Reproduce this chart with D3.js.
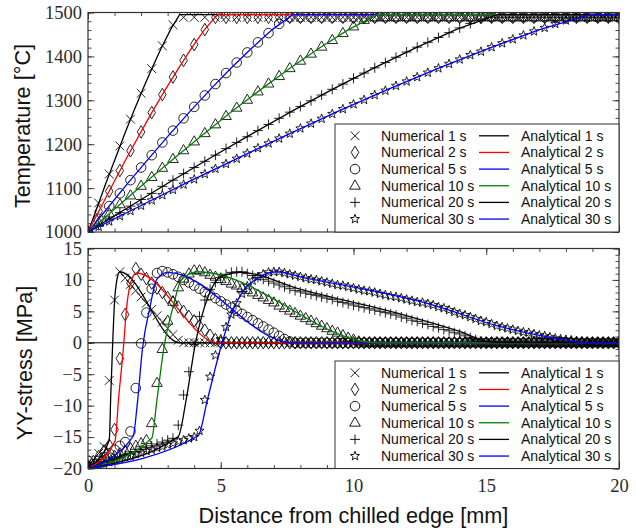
<!DOCTYPE html>
<html>
<head>
<meta charset="utf-8">
<script src="https://cdn.jsdelivr.net/npm/d3@7.9.0/dist/d3.min.js"></script>
<style>
  body { margin: 0; background: #fff; }
  svg { display: block; }
</style>
</head>
<body>
<svg id="chart" width="636" height="531"></svg>
<script>
// ---------- data ----------
const seriesLabels = ['1 s', '2 s', '5 s', '10 s', '20 s', '30 s'];
const lineColors = ['#000000', '#ff0000', '#0000ff', '#008000', '#000000', '#0000ff'];
const markerShapes = ['cross', 'diamond', 'circle', 'triangle', 'plus', 'star'];
const xTicks = [0, 5, 10, 15, 20];
const tempTicks = [1000, 1100, 1200, 1300, 1400, 1500];
const stressTicks = [-20, -15, -10, -5, 0, 5, 10, 15];

// temperature nodes of the numerical model [mm]
const tempNodeX = [0,0.4,0.8,1.2,1.6,2,2.4,2.8,3.2,3.6,4,4.4,4.8,5.2,5.6,6,6.4,6.8,7.2,7.6,
  8,8.4,8.8,9.2,9.6,10,10.4,10.8,11.2,11.6,12,12.4,12.8,13.2,13.6,14,14.4,14.8,15.2,15.6,
  16,16.4,16.8,17.2,17.6,18,18.4,18.8,19.2,19.6,20];

const tempNum1s = [1000,1066,1132,1196,1257,1316,1372,1424,1472,1489,
  1489,1489,1489,1489,1489,1489,1489,1489,1489,1489,
  1489,1489,1489,1489,1489,1489,1489,1489,1489,1489,
  1489,1489,1489,1489,1489,1489,1489,1489,1489,1489,
  1489,1489,1489,1489,1489,1489,1489,1489,1489,1489,1489];
const tempNum2s = [1000,1047,1093,1140,1185,1228,1272,1313,1353,1391,
  1427,1461,1489,1489,1489,1489,1489,1489,1489,1489,
  1489,1489,1489,1489,1489,1489,1489,1489,1489,1489,
  1489,1489,1489,1489,1489,1489,1489,1489,1489,1489,
  1489,1489,1489,1489,1489,1489,1489,1489,1489,1489,1489];
const tempNum5s = [1000,1030,1059,1088,1118,1147,1175,1204,1231,1259,
  1285,1311,1337,1362,1386,1409,1432,1453,1474,1489,
  1489,1489,1489,1489,1489,1489,1489,1489,1489,1489,
  1489,1489,1489,1489,1489,1489,1489,1489,1489,1489,
  1489,1489,1489,1489,1489,1489,1489,1489,1489,1489,1489];
const tempNum10s = [1000,1021,1042,1063,1083,1105,1125,1146,1166,1186,
  1206,1225,1245,1264,1283,1301,1320,1338,1355,1373,
  1390,1406,1422,1437,1453,1468,1483,1489,1489,1489,
  1489,1489,1489,1489,1489,1489,1489,1489,1489,1489,
  1489,1489,1489,1489,1489,1489,1489,1489,1489,1489,1489];
const tempNum20s = [1000,1015,1030,1044,1059,1074,1088,1104,1118,1133,
  1147,1161,1175,1190,1204,1217,1231,1245,1259,1273,
  1286,1299,1312,1325,1337,1350,1362,1374,1386,1398,
  1410,1421,1432,1443,1454,1465,1475,1485,1489,1489,
  1489,1489,1489,1489,1489,1489,1489,1489,1489,1489,1489];
const tempNum30s = [1000,1012,1024,1036,1048,1060,1072,1084,1096,1108,
  1120,1132,1144,1155,1167,1179,1191,1202,1213,1224,
  1236,1247,1258,1269,1280,1291,1301,1312,1322,1333,
  1343,1353,1363,1373,1383,1393,1403,1411,1421,1430,
  1439,1448,1457,1465,1474,1482,1489,1489,1489,1489,1489];

// analytical temperature curves: x [mm], T [°C]
const tempAnaX1s  = [0,0.35,0.69,1.04,1.38,1.73,2.07,2.42,2.76,3.11,3.45,20];
const tempAnaX2s  = [0,0.49,0.98,1.46,1.95,2.44,2.93,3.42,3.9,4.39,4.88,20];
const tempAnaX5s  = [0,0.77,1.54,2.31,3.08,3.86,4.63,5.4,6.17,6.94,7.71,20];
const tempAnaX10s = [0,1.09,2.18,3.27,4.36,5.45,6.54,7.63,8.72,9.81,10.9,20];
const tempAnaX20s = [0,1.54,3.08,4.62,6.16,7.7,9.24,10.78,12.32,13.86,15.4,20];
const tempAnaX30s = [0,1.89,3.78,5.67,7.56,9.45,11.34,13.23,15.12,17.01,18.9,20];
const tempAnaT1s  = [1000,1057,1114,1169,1223,1276,1326,1374,1419,1461,1495,1495];
const tempAnaT2s  = [1000,1057,1114,1169,1223,1276,1326,1374,1419,1461,1495,1495];
const tempAnaT5s  = [1000,1057,1114,1169,1223,1276,1326,1374,1419,1461,1495,1495];
const tempAnaT10s = [1000,1057,1114,1169,1223,1276,1326,1374,1419,1461,1495,1495];
const tempAnaT20s = [1000,1057,1114,1169,1223,1276,1326,1374,1419,1461,1495,1495];
const tempAnaT30s = [1000,1057,1114,1169,1223,1276,1326,1374,1419,1461,1495,1495];

// stress points of the numerical model [mm]
const stressNodeX = [0,0.2,0.4,0.6,0.8,1,1.2,1.4,1.6,1.8,
  2,2.2,2.4,2.6,2.8,3,3.2,3.4,3.6,3.8,
  4,4.2,4.4,4.6,4.8,5,5.2,5.4,5.6,5.8,
  6,6.2,6.4,6.6,6.8,7,7.2,7.4,7.6,7.8,
  8,8.2,8.4,8.6,8.8,9,9.2,9.4,9.6,9.8,
  10,10.2,10.4,10.6,10.8,11,11.2,11.4,11.6,11.8,
  12,12.2,12.4,12.6,12.8,13,13.2,13.4,13.6,13.8,
  14,14.2,14.4,14.6,14.8,15,15.2,15.4,15.6,15.8,
  16,16.2,16.4,16.6,16.8,17,17.2,17.4,17.6,17.8,
  18,18.2,18.4,18.6,18.8,19,19.2,19.4,19.6,19.8,20];

const stressNum1s = [-19.6,-18.6,-17.6,-16.5,-6.0,6.8,11.3,10.3,9.3,8.3,
  7.3,6.3,5.3,4.3,3.3,2.3,1.3,0.4,0,0,
  0,0,0,0,0,0,0,0,0,0, 0,0,0,0,0,0,0,0,0,0,
  0,0,0,0,0,0,0,0,0,0, 0,0,0,0,0,0,0,0,0,0,
  0,0,0,0,0,0,0,0,0,0, 0,0,0,0,0,0,0,0,0,0,
  0,0,0,0,0,0,0,0,0,0, 0,0,0,0,0,0,0,0,0,0, 0];
const stressNum2s = [-19.6,-18.9,-18.1,-17.2,-16.3,-13.8,-2.5,4.5,9.5,11.8,
  10.9,10.2,9.5,8.7,8.0,7.2,6.5,5.7,5.0,4.2,
  3.5,2.7,2.0,1.2,0.5,0,0,0,0,0,
  0,0,0,0,0,0,0,0,0,0, 0,0,0,0,0,0,0,0,0,0,
  0,0,0,0,0,0,0,0,0,0, 0,0,0,0,0,0,0,0,0,0,
  0,0,0,0,0,0,0,0,0,0, 0,0,0,0,0,0,0,0,0,0,
  0,0,0,0,0,0,0,0,0,0, 0];
const stressNum5s = [-19.6,-19.3,-18.8,-18.2,-17.6,-17.0,-16.4,-15.8,-14.1,-7.2,
  -0.1,4.8,8.6,11.1,11.4,11.2,10.9,10.5,10.0,9.6,
  9.1,8.6,8.1,7.6,7.1,6.6,6.1,5.6,5.1,4.6,
  4.1,3.6,3.1,2.6,2.1,1.6,1.1,0.6,0.2,0,
  0,0,0,0,0,0,0,0,0,0, 0,0,0,0,0,0,0,0,0,0,
  0,0,0,0,0,0,0,0,0,0, 0,0,0,0,0,0,0,0,0,0,
  0,0,0,0,0,0,0,0,0,0, 0,0,0,0,0,0,0,0,0,0, 0];
const stressNum10s = [-19.6,-19.5,-19.2,-18.8,-18.4,-18.0,-17.6,-17.2,-16.8,-16.4,
  -16.0,-15.5,-12.8,-6.4,-1.0,3.5,6.5,8.8,10.2,11.0,
  11.5,11.5,11.2,10.8,10.5,10.1,9.8,9.4,9.1,8.7,
  8.4,8.0,7.6,7.2,6.8,6.4,5.9,5.5,5.1,4.7,
  4.3,3.9,3.5,3.1,2.7,2.3,1.9,1.6,1.2,0.8,
  0.5,0.2,0,0,0,0,0,0,0,0,
  0,0,0,0,0,0,0,0,0,0, 0,0,0,0,0,0,0,0,0,0,
  0,0,0,0,0,0,0,0,0,0, 0,0,0,0,0,0,0,0,0,0, 0];
const stressNum20s = [-19.6,-19.6,-19.4,-19.1,-18.8,-18.5,-18.2,-17.9,-17.6,-17.3,
  -17.0,-16.7,-16.4,-16.1,-15.8,-15.5,-15.2,-13.1,-8.3,-4.6,
  -0.3,4.2,6.8,8.5,9.6,10.4,10.9,11.2,11.3,11.3,
  11.0,10.7,10.4,10.1,9.8,9.5,9.2,8.9,8.6,8.3,
  8.1,7.9,7.7,7.5,7.3,7.1,6.9,6.6,6.4,6.2,
  6.0,5.8,5.6,5.4,5.2,5.0,4.8,4.6,4.4,4.1,
  3.9,3.6,3.4,3.1,2.9,2.6,2.4,2.1,1.9,1.6,
  1.4,1.1,0.8,0.5,0.2,0,0,0,0,0,
  0,0,0,0,0,0,0,0,0,0, 0,0,0,0,0,0,0,0,0,0, 0];
const stressNum30s = [-19.6,-19.7,-19.5,-19.2,-19.0,-18.7,-18.5,-18.2,-18.0,-17.7,
  -17.5,-17.2,-17.0,-16.7,-16.5,-16.2,-16.0,-15.7,-15.5,-15.2,
  -15.0,-14.0,-9.1,-5.4,-2.0,0.6,2.5,4.5,6.3,7.8,
  9.0,9.9,10.5,10.9,11.2,11.3,11.3,11.1,10.9,10.7,
  10.5,10.3,10.1,10.0,9.8,9.6,9.4,9.2,9.1,8.9,
  8.7,8.5,8.3,8.2,8.0,7.8,7.6,7.4,7.3,7.1,
  6.9,6.7,6.5,6.4,6.2,6.0,5.7,5.5,5.2,4.9,
  4.6,4.4,4.1,3.8,3.5,3.3,3.0,2.7,2.5,2.3,
  2.1,1.9,1.7,1.6,1.4,1.2,1.1,0.9,0.7,0.6,
  0.5,0.4,0.3,0.2,0.1,0,0,0,0,0, 0];

// analytical stress curves: x [mm], stress [MPa]
const stressAnaX1s  = [0,0.8,0.86,0.93,1.0,1.08,1.2,3.45,20];
const stressAnaY1s  = [-20,-15.5,-8,0,6.5,9.8,11.3,0,0];
const stressAnaX2s  = [0,1.02,1.15,1.33,1.46,1.65,1.83,4.9,20];
const stressAnaY2s  = [-20,-15.6,-9,-1,5.8,10.1,11.1,0,0];
const stressAnaX5s  = [0,1.7,1.85,2.05,2.34,2.59,3.0,7.7,20];
const stressAnaY5s  = [-20,-14.9,-10,-1,5.8,10.1,11.2,0,0];
const stressAnaX10s = [0,2.4,2.6,2.85,3.21,3.53,4.15,10.9,20];
const stressAnaY10s = [-20,-15.2,-9,-1,5.8,10.1,11.3,0,0];
const stressAnaX20s = [0,3.4,3.7,4.05,4.53,5.03,5.75,8,11.75,14,15.2,20];
const stressAnaY20s = [-20,-14.9,-9,0,7.4,10.6,11.2,8.5,4.6,1.8,0.1,0];
const stressAnaX30s = [0,4.15,4.5,5.05,5.41,5.79,6.4,7.1,8,13,15.5,17.5,18.9,20];
const stressAnaY30s = [-20,-14.8,-9,0,4.7,7.9,10.3,11.3,10.5,6.0,2.6,0.8,0,0];

// ---------- layout ----------
const svg = d3.select('#chart');
const plotLeft = 88, plotRight = 619;
const x = d3.scaleLinear().domain([0, 20]).range([plotLeft, plotRight]);
const serifFont = '"Liberation Serif", "DejaVu Serif", serif';
const sansFont = '"Liberation Sans", Arial, sans-serif';

const tempNum = [tempNum1s, tempNum2s, tempNum5s, tempNum10s, tempNum20s, tempNum30s];
const tempAna = [[tempAnaX1s, tempAnaT1s], [tempAnaX2s, tempAnaT2s], [tempAnaX5s, tempAnaT5s],
  [tempAnaX10s, tempAnaT10s], [tempAnaX20s, tempAnaT20s], [tempAnaX30s, tempAnaT30s]];
const stressNum = [stressNum1s, stressNum2s, stressNum5s, stressNum10s, stressNum20s, stressNum30s];
const stressAna = [[stressAnaX1s, stressAnaY1s], [stressAnaX2s, stressAnaY2s], [stressAnaX5s, stressAnaY5s],
  [stressAnaX10s, stressAnaY10s], [stressAnaX20s, stressAnaY20s], [stressAnaX30s, stressAnaY30s]];

function markerPath(shape) {
  switch (shape) {
    case 'cross': return 'M-4.4,-4.4L4.4,4.4M-4.4,4.4L4.4,-4.4';
    case 'plus': return 'M-5,0H5M0,-5V5';
    case 'diamond': return 'M0,-6.3L3.8,0L0,6.3L-3.8,0Z';
    case 'circle': return 'M4.8,0A4.8,4.8 0 1,1 -4.8,0A4.8,4.8 0 1,1 4.8,0Z';
    case 'triangle': return 'M0,-5.8L5.3,3.4L-5.3,3.4Z';
    case 'star': {
      let p = '';
      for (let k = 0; k < 10; k++) {
        const r = k % 2 ? 2.0 : 4.8;
        const a = -Math.PI / 2 + k * Math.PI / 5;
        p += (k ? 'L' : 'M') + (r * Math.cos(a)).toFixed(2) + ',' + (r * Math.sin(a)).toFixed(2);
      }
      return p + 'Z';
    }
  }
}

const panels = [
  {
    id: 'temp', top: 12.5, bottom: 232,
    domain: [1000, 1500], majorY: tempTicks, minorY: d3.range(1000, 1501, 20),
    nodeX: tempNodeX, num: tempNum, ana: tempAna, curve: d3.curveLinear,
    title: 'Temperature [°C]', titleX: 29.5, titleY: 126,
    xLabels: false, legendTop: 124, zeroLine: false
  },
  {
    id: 'stress', top: 248.5, bottom: 468.5,
    domain: [-20, 15], majorY: stressTicks, minorY: d3.range(-20, 16, 1),
    nodeX: stressNodeX, num: stressNum, ana: stressAna, curve: d3.curveMonotoneX,
    title: 'YY-stress [MPa]', titleX: 31.5, titleY: 363,
    xLabels: true, legendTop: 361, zeroLine: true
  }
];

const defs = svg.append('defs');
const numFormat = d3.format('d');

panels.forEach(p => {
  const y = d3.scaleLinear().domain(p.domain).range([p.bottom, p.top]);
  const clipId = 'clip-' + p.id;
  defs.append('clipPath').attr('id', clipId).append('rect')
    .attr('x', plotLeft).attr('y', p.top)
    .attr('width', plotRight - plotLeft).attr('height', p.bottom - p.top);

  // ticks on all four sides, pointing inward
  const axes = svg.append('g');
  const styleAxis = g => {
    g.select('.domain').remove();
    g.selectAll('line').attr('stroke', '#333').attr('stroke-width', 0.9);
    g.selectAll('text')
      .attr('font-family', serifFont)
      .attr('font-size', 18.5)
      .attr('fill', '#2a2a2a');
  };
  axes.append('g').attr('transform', `translate(0,${p.bottom})`)
    .call(d3.axisBottom(x).tickValues(d3.range(0, 21, 1)).tickSize(-3.5).tickFormat(''))
    .call(styleAxis);
  axes.append('g').attr('transform', `translate(0,${p.bottom})`)
    .call(d3.axisBottom(x).tickValues(xTicks).tickSize(-6.5).tickPadding(10.5)
      .tickFormat(p.xLabels ? numFormat : ''))
    .call(styleAxis);
  axes.append('g').attr('transform', `translate(0,${p.top})`)
    .call(d3.axisTop(x).tickValues(d3.range(0, 21, 1)).tickSize(-3.5).tickFormat(''))
    .call(styleAxis);
  axes.append('g').attr('transform', `translate(0,${p.top})`)
    .call(d3.axisTop(x).tickValues(xTicks).tickSize(-6.5).tickFormat(''))
    .call(styleAxis);
  axes.append('g').attr('transform', `translate(${plotLeft},0)`)
    .call(d3.axisLeft(y).tickValues(p.minorY).tickSize(-3.5).tickFormat(''))
    .call(styleAxis);
  axes.append('g').attr('transform', `translate(${plotLeft},0)`)
    .call(d3.axisLeft(y).tickValues(p.majorY).tickSize(-6.5).tickPadding(6).tickFormat(numFormat))
    .call(styleAxis);
  axes.append('g').attr('transform', `translate(${plotRight},0)`)
    .call(d3.axisRight(y).tickValues(p.minorY).tickSize(-3.5).tickFormat(''))
    .call(styleAxis);
  axes.append('g').attr('transform', `translate(${plotRight},0)`)
    .call(d3.axisRight(y).tickValues(p.majorY).tickSize(-6.5).tickFormat(''))
    .call(styleAxis);

  const plot = svg.append('g').attr('clip-path', `url(#${clipId})`);

  if (p.zeroLine) {
    plot.append('line')
      .attr('x1', x(0)).attr('x2', x(20)).attr('y1', y(0)).attr('y2', y(0))
      .attr('stroke', '#000').attr('stroke-width', 1);
  }

  // numerical results as hollow markers
  p.num.forEach((vals, s) => {
    plot.append('g').selectAll('path')
      .data(vals)
      .join('path')
      .attr('transform', (v, i) => `translate(${x(p.nodeX[i])},${y(v)})`)
      .attr('d', markerPath(markerShapes[s]))
      .attr('fill', 'none')
      .attr('stroke', '#000')
      .attr('stroke-width', 0.85);
  });

  // analytical results as coloured lines
  const line = d3.line().x(d => x(d[0])).y(d => y(d[1])).curve(p.curve);
  p.ana.forEach(([xs, ys], s) => {
    plot.append('path')
      .datum(xs.map((xv, i) => [xv, ys[i]]))
      .attr('d', line)
      .attr('fill', 'none')
      .attr('stroke', lineColors[s])
      .attr('stroke-width', 1.3);
  });

  // frame
  svg.append('rect')
    .attr('x', plotLeft).attr('y', p.top)
    .attr('width', plotRight - plotLeft).attr('height', p.bottom - p.top)
    .attr('fill', 'none').attr('stroke', '#333').attr('stroke-width', 1.2);

  // y title
  svg.append('text')
    .attr('transform', `translate(${p.titleX},${p.titleY}) rotate(-90)`)
    .attr('text-anchor', 'middle')
    .attr('font-family', sansFont)
    .attr('font-size', 21.7)
    .attr('fill', '#111')
    .text(p.title);

  // legend
  const lg = svg.append('g');
  const legLeft = 335, legTop = p.legendTop, legH = p.bottom - p.legendTop;
  lg.append('rect')
    .attr('x', legLeft).attr('y', legTop)
    .attr('width', plotRight - legLeft).attr('height', legH)
    .attr('fill', '#fff').attr('stroke', '#333').attr('stroke-width', 1);
  seriesLabels.forEach((lab, s) => {
    const ry = legTop + 11.8 + s * 16.65;
    lg.append('path')
      .attr('transform', `translate(355,${ry})`)
      .attr('d', markerPath(markerShapes[s]))
      .attr('fill', 'none').attr('stroke', '#000').attr('stroke-width', 0.9);
    lg.append('text')
      .attr('x', 381).attr('y', ry).attr('dy', '0.36em')
      .attr('font-family', sansFont)
      .attr('font-size', 14).attr('fill', '#111')
      .text('Numerical ' + lab);
    lg.append('line')
      .attr('x1', 479).attr('x2', 509).attr('y1', ry).attr('y2', ry)
      .attr('stroke', lineColors[s]).attr('stroke-width', 1.3);
    lg.append('text')
      .attr('x', 521).attr('y', ry).attr('dy', '0.36em')
      .attr('font-family', sansFont)
      .attr('font-size', 14).attr('fill', '#111')
      .text('Analytical ' + lab);
  });
});

// x title
svg.append('text')
  .attr('x', (plotLeft + plotRight) / 2).attr('y', 523)
  .attr('text-anchor', 'middle')
  .attr('font-family', sansFont)
  .attr('font-size', 21.7)
  .attr('fill', '#111')
  .text('Distance from chilled edge [mm]');
</script>
</body>
</html>
